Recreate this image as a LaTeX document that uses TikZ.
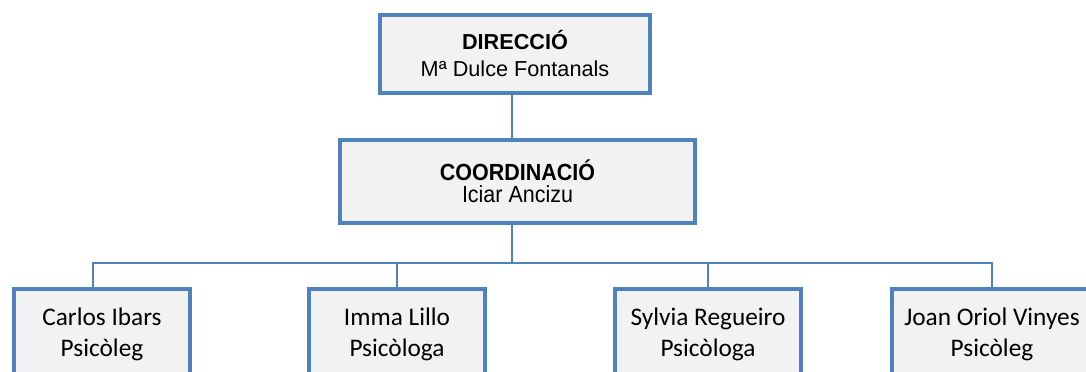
\documentclass[tikz,border=0pt]{standalone}
\usepackage{fontspec}
\setmainfont{Liberation Sans}
\newfontfamily\calibri{Carlito}
\newfontfamily\narrowarial[FakeStretch=0.92]{Liberation Sans}
\definecolor{boxblue}{RGB}{79,129,189}
\definecolor{boxfill}{RGB}{242,242,242}
\tikzset{
	orgbox/.style={draw=boxblue, line width=2.5pt, fill=boxfill, align=center, inner sep=0pt},
	staffbox/.style={orgbox, anchor=north, inner ysep=0.475cm, font=\calibri\fontsize{18}{22.5}\selectfont},
	link/.style={draw=boxblue, line width=1pt}
}
\begin{document}
\begin{tikzpicture}[x=0.025cm, y=-0.025cm]
		\useasboundingbox (0,0) rectangle (1086,371);
		\clip (0,0) rectangle (1086,371);
		
		\node [orgbox, minimum width=6.75cm, minimum height=1.95cm, font=\fontsize{15.4}{19.2}\selectfont] (dir) at (515,54) {\textbf{DIRECCIÓ}\\Mª Dulce Fontanals};
		\node [orgbox, minimum width=8.875cm, minimum height=2.075cm, font=\narrowarial\fontsize{16.6}{15.6}\selectfont] (coord) at (517.5,181.5) {\textbf{COORDINACIÓ}\\Iciar Ancizu};
		
		\node [staffbox, minimum width=4.4cm] (carlos) at (102,287) {Carlos Ibars\\Psicòleg};
		\node [staffbox, minimum width=4.4cm] (imma) at (397,287) {Imma Lillo\\Psicòloga};
		\node [staffbox, minimum width=4.65cm] (sylvia) at (708,287) {Sylvia Regueiro\\Psicòloga};
		\node [staffbox, minimum width=5cm] (joan) at (992,287) {Joan Oriol Vinyes\\Psicòleg};
		
		\coordinate (bus) at (512,263);
		\begin{scope}[link]
			\draw (dir.south -| bus) -- (coord.north -| bus);
			\draw (coord.south -| bus) -- (bus);
			\draw ([xshift=-0.225cm]carlos.north) |- (joan.north |- bus) -- (joan.north);
			\draw (imma.north) -- (imma.north |- bus);
			\draw (sylvia.north) -- (sylvia.north |- bus);
		\end{scope}
	\end{tikzpicture}
\end{document}
